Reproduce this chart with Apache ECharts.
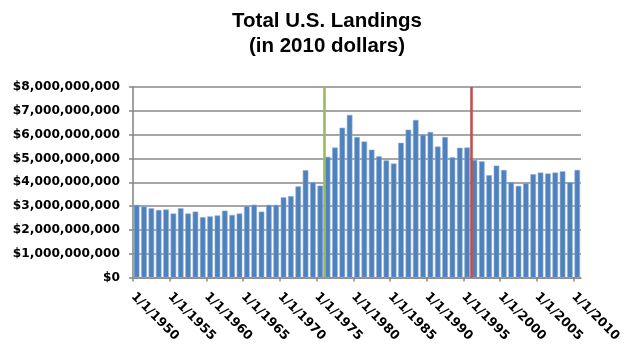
<!DOCTYPE html>
<html>
<head>
<meta charset="utf-8">
<title>Total U.S. Landings</title>
<script src="https://cdn.jsdelivr.net/npm/echarts@6/dist/echarts.min.js"></script>
<style>
  html, body { margin: 0; padding: 0; background: #ffffff; }
  #chart { width: 624px; height: 345px; }
</style>
</head>
<body>
<div id="chart"></div>
<script>
// Landing years, one bar per year
const years = [
  1950, 1951, 1952, 1953, 1954, 1955, 1956, 1957, 1958, 1959,
  1960, 1961, 1962, 1963, 1964, 1965, 1966, 1967, 1968, 1969,
  1970, 1971, 1972, 1973, 1974, 1975, 1976, 1977, 1978, 1979,
  1980, 1981, 1982, 1983, 1984, 1985, 1986, 1987, 1988, 1989,
  1990, 1991, 1992, 1993, 1994, 1995, 1996, 1997, 1998, 1999,
  2000, 2001, 2002, 2003, 2004, 2005, 2006, 2007, 2008, 2009,
  2010
];

// Total landings value, in 2010 dollars
const landings = [
  3050000000, 2990000000, 2910000000, 2840000000, 2860000000, 2690000000, 2910000000, 2690000000, 2770000000, 2540000000,
  2570000000, 2610000000, 2810000000, 2630000000, 2690000000, 3010000000, 3060000000, 2770000000, 3050000000, 3050000000,
  3370000000, 3420000000, 3830000000, 4510000000, 4010000000, 3860000000, 5070000000, 5460000000, 6290000000, 6830000000,
  5900000000, 5710000000, 5370000000, 5090000000, 4920000000, 4790000000, 5660000000, 6210000000, 6620000000, 6000000000,
  6110000000, 5500000000, 5900000000, 5050000000, 5450000000, 5460000000, 4940000000, 4880000000, 4300000000, 4700000000,
  4520000000, 4010000000, 3850000000, 3970000000, 4340000000, 4410000000, 4370000000, 4410000000, 4460000000, 4000000000,
  4520000000
];

// Labelled year ticks on the date axis
const tickYears = [1950, 1955, 1960, 1965, 1970, 1975, 1980, 1985, 1990, 1995, 2000, 2005, 2010];

// Value axis ticks
const valueTicks = [0, 1e9, 2e9, 3e9, 4e9, 5e9, 6e9, 7e9, 8e9];

// Marker lines (start of year)
const markerYears = [1976, 1996];
const markerColors = ['#9BBB59', '#C0504D'];

const chart = echarts.init(document.getElementById('chart'), null, { renderer: 'canvas' });

// Each bar sits in the middle of its year
const barData = years.map((y, i) => [y + 0.5, landings[i]]);

const markData = markerYears.map((y, i) => ({
  xAxis: y,
  lineStyle: { color: markerColors[i], width: 2.6, type: 'solid' }
}));

const gridGrey = '#888888';

const option = {
  animation: false,
  backgroundColor: '#ffffff',
  title: {
    text: 'Total U.S. Landings\n(in 2010 dollars)',
    left: 322,
    top: 4,
    textAlign: 'center',
    textStyle: {
      fontFamily: 'Liberation Sans, Arial, sans-serif',
      fontWeight: 'bold',
      fontSize: 20.5,
      lineHeight: 25,
      color: '#000000'
    }
  },
  grid: {
    left: 133,
    right: 41,
    top: 87,
    bottom: 65,
    containLabel: false
  },
  xAxis: {
    type: 'value',
    min: years[0],
    max: years[years.length - 1] + 1,
    interval: 5,
    axisLine: { show: true, lineStyle: { color: gridGrey, width: 1.6 } },
    axisTick: {
      show: true,
      length: 4,
      customValues: tickYears,
      lineStyle: { color: gridGrey, width: 1.5 }
    },
    splitLine: { show: false },
    axisLabel: {
      customValues: tickYears,
      rotate: -45,
      margin: 17,
      fontFamily: 'DejaVu Sans, sans-serif',
      fontWeight: 'bold',
      fontSize: 12.6,
      color: '#000000',
      formatter: v => '1/1/' + v
    }
  },
  yAxis: {
    type: 'value',
    min: valueTicks[0],
    max: valueTicks[valueTicks.length - 1],
    interval: 1e9,
    axisLine: { show: true, lineStyle: { color: gridGrey, width: 1.6 } },
    axisTick: { show: true, length: 4, lineStyle: { color: gridGrey, width: 1.5 } },
    splitLine: { show: true, lineStyle: { color: gridGrey, width: 1.7 } },
    axisLabel: {
      margin: 13,
      fontFamily: 'DejaVu Sans, sans-serif',
      fontWeight: 'bold',
      fontSize: 12.2,
      color: '#000000',
      formatter: v => '$' + Number(v).toLocaleString('en-US')
    }
  },
  series: [{
    type: 'bar',
    name: 'Total U.S. Landings',
    data: barData,
    barWidth: 5.6,
    itemStyle: {
      color: '#4F81BD',
      borderColor: '#8fb0d8',
      borderWidth: 0.6
    },
    markLine: {
      symbol: ['none', 'none'],
      silent: true,
      label: { show: false },
      data: markData
    },
    z: 2
  }]
};

chart.setOption(option);
</script>
</body>
</html>
